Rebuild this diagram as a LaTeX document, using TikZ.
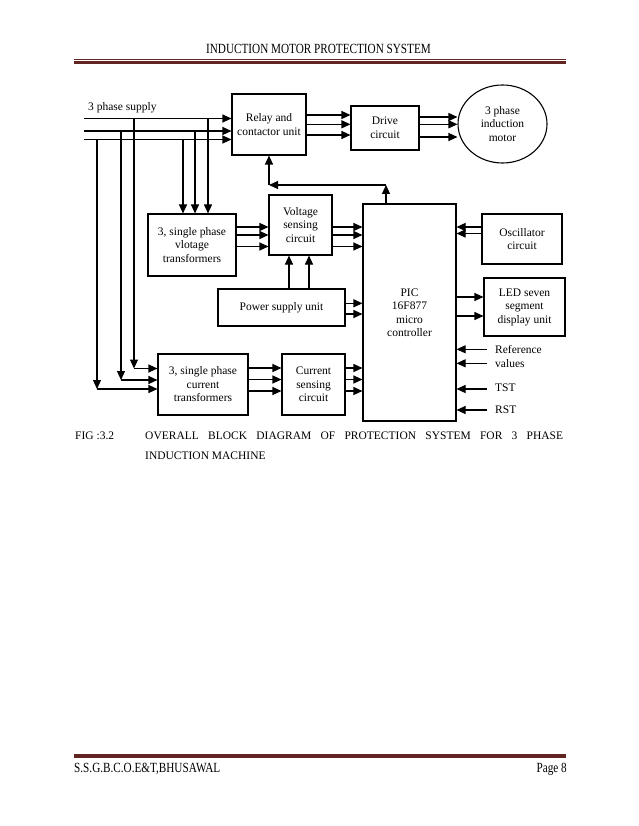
\documentclass[tikz,border=0pt]{standalone}
\usepackage{fontspec}
\setmainfont{Liberation Serif}
\newfontfamily\hdrfont[FakeStretch=0.8]{Liberation Serif}
\usetikzlibrary{arrows.meta,shapes.geometric}
\definecolor{rulered}{HTML}{622423}
\begin{document}
\begin{tikzpicture}[x=1pt,y=-1pt,
  box/.style={draw,line width=1.1pt,inner sep=0pt,align=center,font=\fontsize{11.5}{13.5}\selectfont},
  lab/.style={font=\fontsize{11.5}{13.5}\selectfont,inner sep=0pt},
  captext/.style={font=\fontsize{11.5}{14}\selectfont,inner sep=0pt},
  hdr/.style={font=\hdrfont\fontsize{14}{16}\selectfont,inner sep=0pt},
  arr/.style={line width=1.1pt,-{Triangle[length=9pt,width=8pt]}},
  ln/.style={line width=1.1pt}]
\useasboundingbox[fill=white] (0,0) rectangle (638,826);

% header and footer
\node[hdr,anchor=base] (hdrtext) at (318.5,53.4) {INDUCTION MOTOR PROTECTION SYSTEM};
\draw[rulered,line width=0.8pt] (74,59.2) -- (566,59.2);
\draw[rulered,line width=2.6pt] (74,62.3) -- (566,62.3);
\draw[rulered,line width=3.3pt] (74,756) -- (566,756);
\node[hdr,anchor=base west] (foot) at (74,772.5) {S.S.G.B.C.O.E\&T,BHUSAWAL};
\node[hdr,anchor=base east] (page) at (567,772.5) {Page 8};

% blocks
\node[box,minimum width=74pt,minimum height=61pt] (relay) at (269,124.5) {Relay and\\contactor unit};
\node[box,minimum width=68pt,minimum height=44pt] (drive) at (385,128) {Drive\\circuit};
\node[box,ellipse,minimum width=89pt,minimum height=78pt] (motor) at (502.5,124) {3 phase\\induction\\motor};
\node[box,minimum width=88pt,minimum height=62pt] (vt) at (192,245) {3, single phase\\vlotage\\transformers};
\node[box,minimum width=63pt,minimum height=60pt] (vs) at (300.5,225) {Voltage\\sensing\\circuit};
\node[box,minimum width=127pt,minimum height=37pt] (psu) at (281.5,307.5) {Power supply unit};
\node[box,minimum width=93pt,minimum height=217pt] (pic) at (409.5,312.5) {PIC\\16F877\\micro\\controller};
\node[box,minimum width=80pt,minimum height=50pt] (osc) at (522,239) {Oscillator\\circuit};
\node[box,minimum width=81pt,minimum height=58pt] (led) at (524.5,307) {LED seven\\segment\\display unit};
\node[box,minimum width=90pt,minimum height=61pt] (ct) at (203,384.5) {3, single phase\\current\\transformers};
\node[box,minimum width=63pt,minimum height=61pt] (cs) at (313.5,384.5) {Current\\sensing\\circuit};

% supply
\node[lab,anchor=base west] (supply) at (88,110.5) {3 phase supply};
\coordinate (s1) at (84,118.5);
\coordinate (s2) at (84,131);
\coordinate (s3) at (84,139.5);
\draw[arr] (s1) -- (s1 -| relay.west);
\draw[arr] (s2) -- (s2 -| relay.west);
\draw[arr] (s3) -- (s3 -| relay.west);

% feeds to current transformers
\coordinate (c1) at (134,368.5);
\coordinate (c2) at (121,380);
\coordinate (c3) at (97,389);
\draw[arr] (c1 |- s1) -- (c1);
\draw[arr] (c1) -- (c1 -| ct.west);
\draw[arr] (c2 |- s2) -- (c2);
\draw[arr] (c2) -- (c2 -| ct.west);
\draw[arr] (c3 |- s3) -- (c3);
\draw[arr] (c3) -- (c3 -| ct.west);

% feeds to voltage transformers
\coordinate (v1) at (208,0);
\coordinate (v2) at (195,0);
\coordinate (v3) at (183,0);
\draw[arr] (v1 |- s1) -- (v1 |- vt.north);
\draw[arr] (v2 |- s2) -- (v2 |- vt.north);
\draw[arr] (v3 |- s3) -- (v3 |- vt.north);

% relay -> drive -> motor
\foreach \yy in {115,124.3,135}
  \draw[arr] (relay.east |- 0,\yy) -- (drive.west |- 0,\yy);
\foreach \yy in {117,124.3,137}
  \draw[arr] (drive.east |- 0,\yy) -- (motor.west |- 0,\yy);

% VT -> VS -> PIC
\foreach \yy in {227,235,246.5}
  \draw[arr] (vt.east |- 0,\yy) -- (vs.west |- 0,\yy);
\foreach \yy in {227,235,246.5}
  \draw[arr] (vs.east |- 0,\yy) -- (pic.west |- 0,\yy);

% PSU
\foreach \xx in {289,309}
  \draw[arr] (\xx,0 |- psu.north) -- (\xx,0 |- vs.south);
\foreach \yy in {303.3,314}
  \draw[arr] (psu.east |- 0,\yy) -- (pic.west |- 0,\yy);

% oscillator, LED
\foreach \yy in {227,233.5}
  \draw[arr] (osc.west |- 0,\yy) -- (pic.east |- 0,\yy);
\foreach \yy in {297,316}
  \draw[arr] (pic.east |- 0,\yy) -- (led.west |- 0,\yy);

% CT -> CS -> PIC
\foreach \yy in {368,379.5,391}
  \draw[arr] (ct.east |- 0,\yy) -- (cs.west |- 0,\yy);
\foreach \yy in {368,379.5,391}
  \draw[arr] (cs.east |- 0,\yy) -- (pic.west |- 0,\yy);

% inputs on the right
\coordinate (r1) at (487,349.3);
\coordinate (r2) at (487,363.3);
\coordinate (r3) at (487,389);
\coordinate (r4) at (487,410);
\draw[arr] (r1) -- (r1 -| pic.east);
\draw[arr] (r2) -- (r2 -| pic.east);
\draw[arr] (r3) -- (r3 -| pic.east);
\draw[arr] (r4) -- (r4 -| pic.east);
\node[lab,anchor=west] (ref1) at (495,349.3) {Reference};
\node[lab,anchor=west] (ref2) at (495,363.3) {values};
\node[lab,anchor=west] (tst) at (495,388) {TST};
\node[lab,anchor=west] (rst) at (495,410) {RST};

% feedback PIC -> relay
\coordinate (fb1) at (386,185);
\coordinate (fb2) at (269,185);
\draw[arr] (pic.north -| fb1) -- (fb1);
\draw[arr] (fb1) -- (fb2);
\draw[arr] (fb2) -- (relay.south);

% caption
\node[captext,anchor=base west] (fig) at (75,439) {FIG :3.2};
\node[captext,anchor=base west] (cap1) at (145,439) {\makebox[418pt][s]{OVERALL BLOCK DIAGRAM OF PROTECTION SYSTEM FOR 3 PHASE}};
\node[captext,anchor=base west] (cap2) at (145,459) {INDUCTION MACHINE};
\end{tikzpicture}
\end{document}
